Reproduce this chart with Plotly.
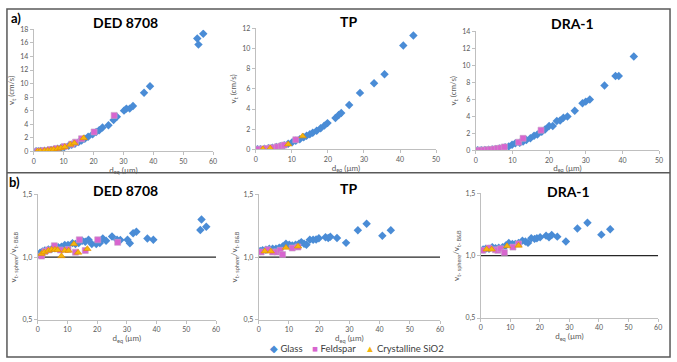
import plotly.graph_objects as go

W, H = 677, 362

# ---------------- DATA ----------------
sample_names = ["DED 8708", "TP", "DRA-1"]
series_names = ["Glass", "Feldspar", "Crystalline SiO2"]

# a) terminal velocity vt (cm/s) vs d_eq (µm)
ded_glass_d = [0.8, 1.6, 2.4, 3.6, 4.7, 5.8, 6.9, 8.0, 9.1, 10.2, 11.7, 12.7, 13.8, 15.0, 16.0, 17.1, 18.2, 19.7,
               20.9, 21.9, 23.0, 25.0, 26.7, 27.8, 30.2, 31.0, 32.1, 33.2, 36.9, 38.9, 54.7, 55.1, 56.7]
ded_glass_v = [0.01, 0.02, 0.04, 0.08, 0.13, 0.2, 0.28, 0.38, 0.48, 0.6, 0.8, 0.95, 1.1, 1.35, 1.6, 1.85, 2.15, 2.5,
               2.85, 3.1, 3.5, 3.85, 4.6, 5.1, 6.0, 6.3, 6.3, 6.7, 8.65, 9.6, 16.65, 15.75, 17.35]
ded_feld_d = [1.3, 2.4, 3.6, 5.6, 7.6, 10.2, 12.7, 14.0, 16.0, 20.2, 26.9]
ded_feld_v = [0.02, 0.05, 0.1, 0.25, 0.42, 0.7, 1.05, 1.35, 1.85, 2.85, 5.3]
ded_sio2_d = [1.3, 2.2, 3.6, 4.7, 5.8, 6.7, 8.0, 9.1, 10.4, 12.2, 13.6, 16.7]
ded_sio2_v = [0.01, 0.03, 0.08, 0.13, 0.2, 0.27, 0.38, 0.48, 0.65, 1.0, 1.2, 1.95]

tp_glass_d = [0.5, 1.3, 2.4, 3.5, 4.6, 5.7, 6.8, 7.9, 9.0, 10.1, 11.1, 12.2, 13.3, 14.1, 15.0, 15.8, 16.9, 18.0,
              19.0, 19.9, 22.1, 23.0, 23.7, 25.9, 28.9, 32.8, 35.7, 40.9, 43.7]
tp_glass_v = [0.0, 0.02, 0.05, 0.1, 0.15, 0.22, 0.3, 0.4, 0.55, 0.7, 0.85, 1.0, 1.2, 1.35, 1.5, 1.65, 1.85, 2.1,
              2.35, 2.6, 3.1, 3.4, 3.6, 4.4, 5.6, 6.55, 7.45, 10.3, 11.3]
tp_feld_d = [0.8, 2.0, 3.0, 4.0, 4.6, 6.0, 7.1, 7.9, 11.1]
tp_feld_v = [0.01, 0.04, 0.08, 0.12, 0.15, 0.25, 0.33, 0.42, 0.95]
tp_sio2_d = [2.0, 4.0, 9.0, 13.0]
tp_sio2_v = [0.02, 0.1, 0.5, 1.3]

dra_glass_d = [0.5, 1.5, 2.5, 3.5, 4.5, 5.5, 6.5, 8.0, 9.0, 9.9, 10.8, 12.0, 12.9, 13.8, 14.9, 15.9, 16.8, 18.0,
               18.9, 20.0, 21.0, 22.1, 23.0, 23.9, 25.0, 27.0, 29.1, 30.0, 31.1, 35.1, 38.1, 39.0, 43.1]
dra_glass_v = [0.0, 0.02, 0.04, 0.07, 0.11, 0.16, 0.22, 0.35, 0.46, 0.65, 0.84, 0.9, 1.03, 1.22, 1.41, 1.72, 1.87,
               2.18, 2.44, 2.86, 2.86, 3.44, 3.51, 3.82, 3.97, 4.66, 5.53, 5.73, 5.99, 7.63, 8.74, 8.74, 11.03]
dra_feld_d = [0.5, 1.4, 2.3, 3.2, 4.1, 5.0, 5.9, 6.8, 7.8, 11.7, 12.9, 17.8]
dra_feld_v = [0.0, 0.02, 0.04, 0.07, 0.1, 0.15, 0.2, 0.27, 0.4, 0.95, 1.41, 2.37]
dra_sio2_d = []
dra_sio2_v = []

# b) ratio vt-sphere / vt-B&B vs d_eq (µm)
ded_glass_rd = ded_glass_d
ded_glass_r = [1.034, 1.044, 1.052, 1.06, 1.065, 1.07, 1.078, 1.083, 1.096, 1.096, 1.111, 1.104, 1.111, 1.13, 1.122,
               1.137, 1.104, 1.104, 1.111, 1.148, 1.13, 1.163, 1.137, 1.135, 1.137, 1.11, 1.189, 1.202, 1.148, 1.137,
               1.215, 1.298, 1.241]
ded_feld_rd = [1.3, 2.4, 3.6, 5.6, 7.6, 10.2, 12.7, 14.0, 16.0, 20.2, 26.9]
ded_feld_r = [1.008, 1.044, 1.057, 1.09, 1.057, 1.06, 1.039, 1.137, 1.052, 1.137, 1.117]
ded_sio2_rd = [1.3, 2.2, 3.6, 4.7, 5.8, 6.7, 8.0, 9.1, 10.4, 12.2, 13.6, 16.7]
ded_sio2_r = [1.026, 1.039, 1.052, 1.06, 1.06, 1.057, 1.008, 1.052, 1.052, 1.104, 1.036, 1.065]

tp_glass_rd = tp_glass_d
tp_glass_r = [1.049, 1.054, 1.059, 1.067, 1.067, 1.067, 1.075, 1.085, 1.106, 1.098, 1.093, 1.098, 1.106, 1.119,
              1.106, 1.098, 1.137, 1.137, 1.139, 1.149, 1.157, 1.152, 1.162, 1.152, 1.113, 1.214, 1.265, 1.17, 1.214]
tp_feld_rd = [0.8, 3.0, 4.6, 6.0, 7.1, 7.9, 11.1, 13.0]
tp_feld_r = [1.041, 1.059, 1.041, 1.041, 1.054, 1.02, 1.072, 1.08]
tp_sio2_rd = [2.0, 4.0, 9.0, 13.0]
tp_sio2_r = [1.046, 1.046, 1.075, 1.085]

dra_glass_rd = [0.8, 1.7, 2.8, 3.9, 5.0, 6.1, 7.4, 8.5, 9.5, 10.7, 11.7, 12.8, 14.1, 15.1, 16.0, 17.1, 18.2, 19.0,
                20.1, 22.1, 23.1, 24.0, 25.9, 28.8, 32.7, 36.1, 40.8, 43.8]
dra_glass_r = [1.05, 1.055, 1.055, 1.068, 1.06, 1.063, 1.068, 1.081, 1.102, 1.094, 1.094, 1.102, 1.12, 1.113, 1.102,
               1.139, 1.134, 1.139, 1.147, 1.16, 1.147, 1.165, 1.152, 1.113, 1.217, 1.264, 1.168, 1.212]
dra_feld_rd = [0.6, 2.8, 5.0, 5.8, 6.7, 8.0, 10.9, 12.8]
dra_feld_r = [1.042, 1.06, 1.047, 1.042, 1.055, 1.024, 1.068, 1.094]
dra_sio2_rd = [2.0, 3.7, 8.9, 12.8]
dra_sio2_r = [1.05, 1.05, 1.076, 1.081]

glass_err = 0.02  # approximate error bar half-width on glass ratios

top_xmax = [60, 50, 50]
top_ymax = [18, 12, 14]
ratio_tickvals = [0.5, 1.0, 1.5]
ratio_ticktext = ["0,5", "1,0", "1,5"]
ref_ratio = 1.0

# ---------------- STYLE ----------------
FONT = "Lato"
colors = {"Glass": "#4a8cd6", "Feldspar": "#d865cf", "Crystalline SiO2": "#f5b50a"}
symbols = {"Glass": "diamond", "Feldspar": "square", "Crystalline SiO2": "triangle-up"}
glyphs = {"Glass": "◆", "Feldspar": "■", "Crystalline SiO2": "▲"}
sizes = {"Glass": 6.5, "Feldspar": 6, "Crystalline SiO2": 6.5}
edges = {"Glass": dict(width=0), "Feldspar": dict(width=0.6, color="#c6a0c6"),
         "Crystalline SiO2": dict(width=0.6, color="#e08a00")}
AXC = "#bfbfbf"
TICKC = "#595959"

def px_x(a, b):
    return [a / W, b / W]

def px_y(top, bottom):
    return [1 - bottom / H, 1 - top / H]

top_dom_x = [px_x(32, 213), px_x(256, 438), px_x(478, 663)]
top_dom_y = [px_y(25, 150), px_y(24, 148), px_y(27, 149)]
bot_dom_x = [px_x(36, 216), px_x(259, 442), px_x(483, 662)]
bot_dom_y = [px_y(194, 323), px_y(194, 323), px_y(193, 321)]

top_sets = [
    [(ded_glass_d, ded_glass_v), (ded_feld_d, ded_feld_v), (ded_sio2_d, ded_sio2_v)],
    [(tp_glass_d, tp_glass_v), (tp_feld_d, tp_feld_v), (tp_sio2_d, tp_sio2_v)],
    [(dra_glass_d, dra_glass_v), (dra_feld_d, dra_feld_v), (dra_sio2_d, dra_sio2_v)],
]
bot_sets = [
    [(ded_glass_rd, ded_glass_r), (ded_feld_rd, ded_feld_r), (ded_sio2_rd, ded_sio2_r)],
    [(tp_glass_rd, tp_glass_r), (tp_feld_rd, tp_feld_r), (tp_sio2_rd, tp_sio2_r)],
    [(dra_glass_rd, dra_glass_r), (dra_feld_rd, dra_feld_r), (dra_sio2_rd, dra_sio2_r)],
]

fig = go.Figure()
layout = dict(
    width=W, height=H, margin=dict(l=0, r=0, t=0, b=0),
    paper_bgcolor="white", plot_bgcolor="white",
    font=dict(family=FONT, color=TICKC, size=7),
    showlegend=False,
)

axis_common = dict(showline=True, linecolor=AXC, linewidth=1, ticks="outside", tickcolor=AXC,
                   ticklen=3, tickwidth=1, showgrid=False, zeroline=False,
                   tickfont=dict(size=7, color=TICKC, family=FONT))

annotations = []
shapes = []

for i in range(3):
    for row in range(2):
        idx = 1 + i + 3 * row
        xa = "xaxis" if idx == 1 else f"xaxis{idx}"
        ya = "yaxis" if idx == 1 else f"yaxis{idx}"
        xr = "x" if idx == 1 else f"x{idx}"
        yr = "y" if idx == 1 else f"y{idx}"
        if row == 0:
            layout[xa] = dict(axis_common, domain=top_dom_x[i], anchor=yr, range=[0, top_xmax[i]], dtick=10,
                              title=dict(text="d<sub>eq</sub> (µm)", font=dict(size=8, color=TICKC), standoff=2))
            layout[ya] = dict(axis_common, domain=top_dom_y[i], anchor=xr, range=[0, top_ymax[i]], dtick=2,
                              title=dict(text="v<sub>t</sub> (cm/s)", font=dict(size=8, color=TICKC), standoff=4))
            sets = top_sets[i]
        else:
            layout[xa] = dict(axis_common, domain=bot_dom_x[i], anchor=yr, range=[0, 60], dtick=10,
                              title=dict(text="d<sub>eq</sub> (µm)", font=dict(size=8, color=TICKC), standoff=2))
            layout[ya] = dict(axis_common, domain=bot_dom_y[i], anchor=xr, range=[0.5, 1.5],
                              tickvals=ratio_tickvals, ticktext=ratio_ticktext,
                              title=dict(text="v<sub>t- sphere</sub>/v<sub>t- B&amp;B</sub>",
                                         font=dict(size=8, color=TICKC), standoff=4))
            sets = bot_sets[i]
            shapes.append(dict(type="line", xref=xr, yref=yr, x0=0, x1=60, y0=ref_ratio, y1=ref_ratio,
                               line=dict(color="#262626", width=1.3), layer="below"))
        for k, name in enumerate(series_names):
            xs, ys = sets[k]
            tr = dict(x=xs, y=ys, mode="markers", name=name, xaxis=xr, yaxis=yr,
                      marker=dict(symbol=symbols[name], color=colors[name], size=sizes[name], line=edges[name]))
            if row == 1 and name == "Glass":
                tr["error_y"] = dict(type="constant", value=glass_err, color="#b0b0b0", thickness=0.8, width=0)
            fig.add_trace(go.Scatter(**tr))

# subplot titles
title_pos_top = [(125, 18), (350, 17), (576, 19)]
title_pos_bot = [(125, 190), (350, 188), (572, 191)]
for i, name in enumerate(sample_names):
    for (px, py) in (title_pos_top[i], title_pos_bot[i]):
        annotations.append(dict(text=f"<b>{name}</b>", x=px / W, y=1 - py / H, xref="paper", yref="paper",
                                showarrow=False, xanchor="center", yanchor="middle",
                                font=dict(size=14, color="#000000", family=FONT)))

# panel letters
for lab, (px, py) in (("a)", (14, 13)), ("b)", (13, 182))):
    annotations.append(dict(text=f"<b>{lab}</b>", x=px / W, y=1 - py / H, xref="paper", yref="paper",
                            showarrow=False, xanchor="center", yanchor="middle",
                            font=dict(size=13, color="#000000", family=FONT)))

# compact legend (as in the reference) built from the series names and colours
legend_text = "&nbsp;&nbsp;&nbsp;&nbsp;".join(
    f"<span style='color:{colors[n]}'>{glyphs[n]}</span> {n}" for n in series_names)
annotations.append(dict(text=legend_text, x=358 / W, y=1 - 352 / H, xref="paper", yref="paper",
                        showarrow=False, xanchor="center", yanchor="middle",
                        font=dict(size=9.5, color="#404040", family=FONT)))

# panel frames
shapes.append(dict(type="rect", xref="paper", yref="paper", x0=5 / W, x1=674 / W, y0=1 - 361 / H, y1=1 - 4 / H,
                   line=dict(color="#595959", width=1.5), layer="below"))
shapes.append(dict(type="line", xref="paper", yref="paper", x0=5 / W, x1=674 / W, y0=1 - 172 / H, y1=1 - 172 / H,
                   line=dict(color="#595959", width=1.5), layer="below"))

layout["annotations"] = annotations
layout["shapes"] = shapes
fig.update_layout(**layout)
fig.write_html("out.html")
